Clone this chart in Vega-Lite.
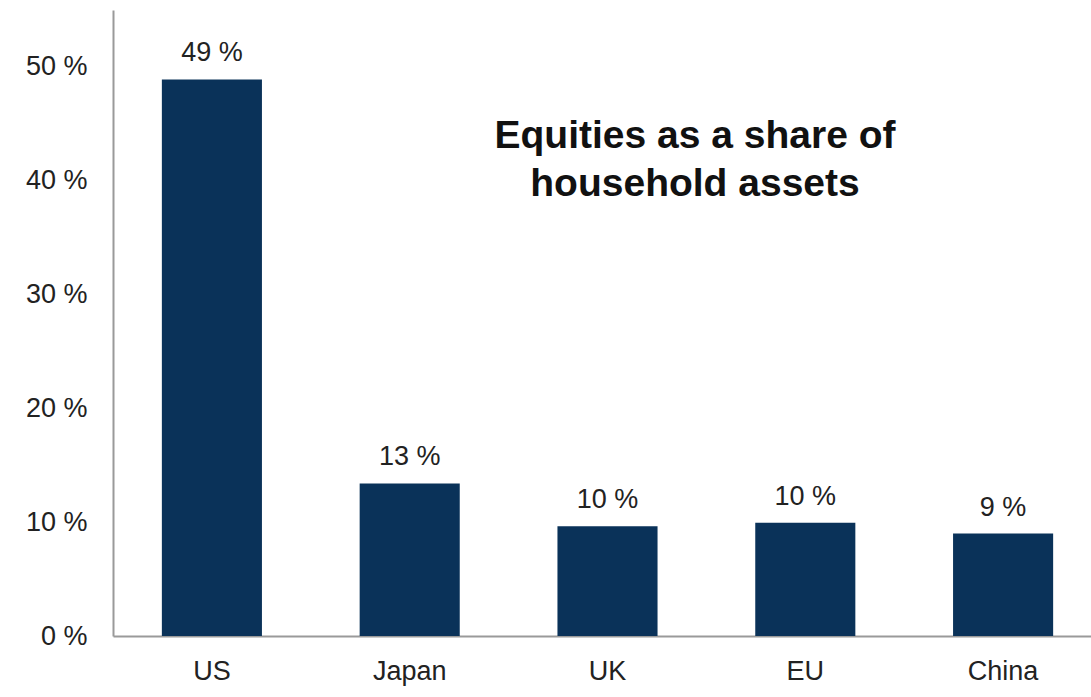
{
  "$schema": "https://vega.github.io/schema/vega-lite/v6.json",
  "autosize": "none",
  "padding": {"left": 113, "top": 10, "right": 0, "bottom": 61},
  "width": 978,
  "height": 626,
  "background": "white",
  "title": {
    "text": ["Equities as a share of", "household assets"],
    "font": "Liberation Sans",
    "fontSize": 39,
    "fontWeight": "bold",
    "color": "#111111",
    "lineHeight": 48,
    "anchor": "middle",
    "frame": "group",
    "orient": "top",
    "offset": 0,
    "baseline": "alphabetic",
    "dx": 93,
    "dy": 225
  },
  "data": {
    "values": [
      {"region": "US", "share": 48.9, "label": "49 %"},
      {"region": "Japan", "share": 13.4, "label": "13 %"},
      {"region": "UK", "share": 9.65, "label": "10 %"},
      {"region": "EU", "share": 9.95, "label": "10 %"},
      {"region": "China", "share": 9.0, "label": "9 %"}
    ]
  },
  "config": {
    "view": {"stroke": null},
    "font": "Liberation Sans"
  },
  "encoding": {
    "x": {
      "field": "region",
      "type": "nominal",
      "sort": null,
      "scale": {"range": [0, 989], "paddingInner": 0.494, "paddingOuter": 0.247},
      "axis": {
        "title": null,
        "labelAngle": 0,
        "labelFont": "Liberation Sans",
        "labelFontSize": 27,
        "labelColor": "#222222",
        "labelPadding": 22,
        "ticks": false,
        "domainColor": "#9a9a9a",
        "domainWidth": 2
      }
    },
    "y": {
      "field": "share",
      "type": "quantitative",
      "scale": {"domain": [0, 55], "nice": false},
      "axis": {
        "title": null,
        "values": [0, 10, 20, 30, 40, 50],
        "labelExpr": "datum.value + ' %'",
        "labelFont": "Liberation Sans",
        "labelFontSize": 27,
        "labelColor": "#222222",
        "labelPadding": 26,
        "ticks": false,
        "grid": false,
        "domainColor": "#9a9a9a",
        "domainWidth": 2
      }
    }
  },
  "layer": [
    {
      "mark": {"type": "bar", "color": "#0a3259"}
    },
    {
      "mark": {
        "type": "text",
        "baseline": "alphabetic",
        "dy": -18,
        "fontSize": 27,
        "color": "#222222",
        "font": "Liberation Sans"
      },
      "encoding": {"text": {"field": "label"}}
    }
  ]
}
